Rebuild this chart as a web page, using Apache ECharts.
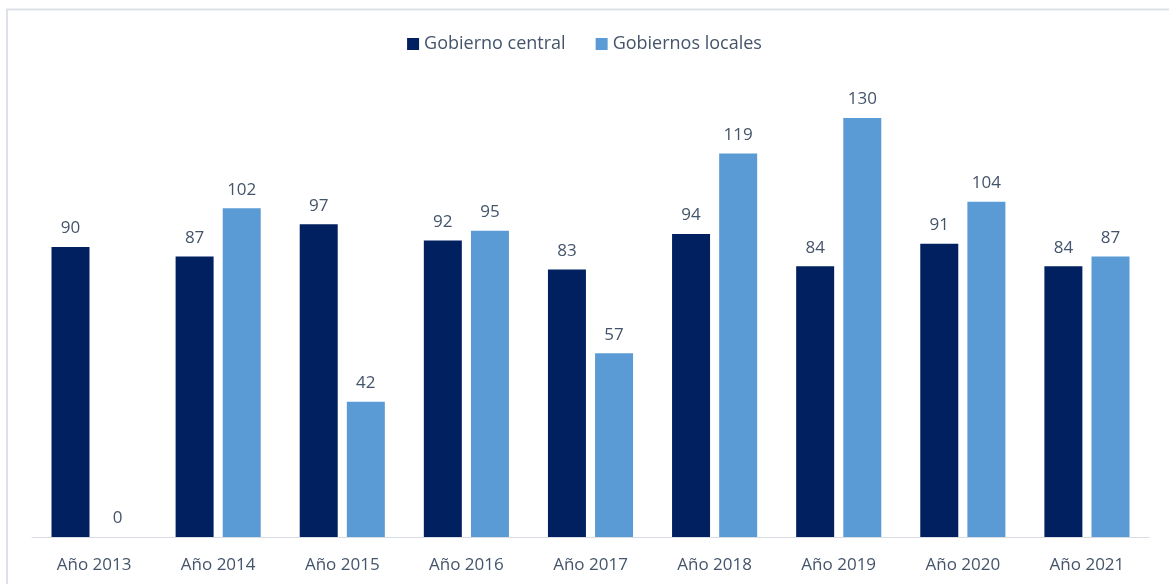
<!DOCTYPE html>
<html>
<head>
<meta charset="utf-8">
<script src="https://cdn.jsdelivr.net/npm/echarts@6/dist/echarts.min.js"></script>
<style>
  html, body { margin: 0; padding: 0; background: #fff; }
  #chart { width: 1169px; height: 584px; }
</style>
</head>
<body>
<div id="chart"></div>
<script>
const years = ['Año 2013', 'Año 2014', 'Año 2015', 'Año 2016', 'Año 2017', 'Año 2018', 'Año 2019', 'Año 2020', 'Año 2021']
const central = [90, 87, 97, 92, 83, 94, 84, 91, 84]
const locales = [0, 102, 42, 95, 57, 119, 130, 104, 87]

const textColor = '#44546a'
const font = '"Open Sans", "Noto Sans", sans-serif'

const chart = echarts.init(document.getElementById('chart'))

const labelStyle = {
  show: true,
  position: 'top',
  distance: 10,
  color: textColor,
  fontSize: 17,
  fontFamily: font
}

chart.setOption({
  animation: false,
  graphic: [
    {
      type: 'rect',
      silent: true,
      shape: { x: 7, y: 9.5, width: 1300, height: 700 },
      style: { fill: 'none', stroke: '#dde2e8', lineWidth: 2 }
    }
  ],
  legend: {
    top: 30,
    left: 'center',
    itemWidth: 12,
    itemHeight: 12,
    itemGap: 30,
    icon: 'rect',
    textStyle: { color: textColor, fontSize: 18, fontFamily: font }
  },
  grid: { left: 32, right: 20, top: 60, bottom: 47 },
  xAxis: {
    type: 'category',
    data: years,
    axisTick: { show: false },
    axisLine: { lineStyle: { color: '#d9dde3', width: 1 } },
    axisLabel: { color: textColor, fontSize: 17, fontFamily: font, margin: 20 }
  },
  yAxis: {
    type: 'value',
    min: 0,
    max: 148,
    show: false,
    splitLine: { show: false }
  },
  series: [
    {
      name: 'Gobierno central',
      type: 'bar',
      data: central,
      barWidth: 38,
      barGap: '24%',
      itemStyle: { color: '#002060' },
      label: labelStyle
    },
    {
      name: 'Gobiernos locales',
      type: 'bar',
      data: locales,
      barWidth: 38,
      itemStyle: { color: '#5b9bd5' },
      label: labelStyle
    }
  ]
})
</script>
</body>
</html>
